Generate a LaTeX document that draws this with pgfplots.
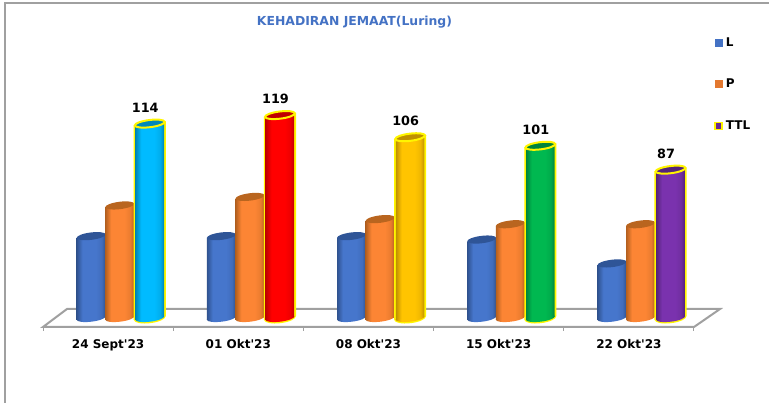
\documentclass[border=0pt]{standalone}
\usepackage{fontspec}
\setmainfont{DejaVu Sans}
\newfontfamily\plainf{DejaVu Sans}
\usepackage{pgfplots}
\pgfplotsset{compat=1.18}
\newlength\px
\setlength\px{0.75pt}
\definecolor{bluE}{HTML}{2F528F}\definecolor{bluM}{HTML}{4676CC}\definecolor{bluT}{HTML}{2F5597}
\definecolor{oraE}{HTML}{B4601F}\definecolor{oraM}{HTML}{FC8534}\definecolor{oraT}{HTML}{B9651F}
\definecolor{skyE}{HTML}{0085B5}\definecolor{skyM}{HTML}{00BBFF}\definecolor{skyT}{HTML}{0088B8}
\definecolor{redE}{HTML}{BF0000}\definecolor{redM}{HTML}{FF0000}\definecolor{redT}{HTML}{BF0000}
\definecolor{golE}{HTML}{BF9000}\definecolor{golM}{HTML}{FFC400}\definecolor{golT}{HTML}{BF9000}
\definecolor{grnE}{HTML}{00843C}\definecolor{grnM}{HTML}{00B850}\definecolor{grnT}{HTML}{00843C}
\definecolor{purE}{HTML}{54247A}\definecolor{purM}{HTML}{7A32AE}\definecolor{purT}{HTML}{54247A}
\definecolor{ringY}{HTML}{FFF500}
\definecolor{frameG}{HTML}{A0A0A0}
\definecolor{titleB}{HTML}{4472C4}
\newcommand\tiltell[2]{\pgfpathellipse{\pgfpointorigin}{\pgfpoint{#1*0.9925\px}{#1*0.1219\px}}{\pgfpoint{-#2*0.1219\px}{#2*0.9925\px}}}
\newcommand\declmarks[1]{%
  \pgfdeclarehorizontalshading{cyl#1}{100bp}{color(0bp)=(#1E); color(25bp)=(#1E); color(35bp)=(#1M); color(58bp)=(#1M); color(68bp)=(#1M!75!#1E); color(75bp)=(#1E); color(100bp)=(#1E)}%
  \pgfdeclareplotmark{b#1}{\tiltell{14.6}{3.7}\pgfshadepath{cyl#1}{0}\pgfusepath{discard}}%
  \pgfdeclareplotmark{t#1}{\pgfsetfillcolor{#1T}\tiltell{14.6}{3.7}\pgfusepath{fill}}%
  \pgfdeclareplotmark{y#1}{\pgfsetfillcolor{#1T}\pgfsetstrokecolor{ringY}\pgfsetlinewidth{2\px}\tiltell{15}{3.6}\pgfusepath{fill,stroke}}%
}
\declmarks{blu}\declmarks{ora}\declmarks{sky}\declmarks{red}\declmarks{gol}\declmarks{grn}\declmarks{pur}
\pgfdeclareplotmark{ybot}{\pgfsetfillcolor{ringY}\tiltell{16}{5.2}\pgfusepath{fill}}
\newcommand\body[5]{%
  \pgfmathsetmacro\xl{#3-#2}\pgfmathsetmacro\xr{#3+#2}%
  \pgfmathsetmacro\yl{#4-1.04}\pgfmathsetmacro\yr{#4+1.04}%
  \addplot[forget plot,no markers,draw=none,#5] coordinates {(\xl,-1.04)(\xr,1.04)(\xr,\yr)(\xl,\yl)} -- cycle;
}
\newcommand\cyl[3]{%
  \addplot[forget plot,only marks,mark=b#1] coordinates {(#2,0)};
  \body{#1}{0.1114}{#2}{#3}{shade,shading=cyl#1}
  \addplot[forget plot,only marks,mark=t#1] coordinates {(#2,#3)};
}
\newcommand\ttl[3]{%
  \addplot[forget plot,only marks,mark=ybot] coordinates {(#2,0)};
  \body{#1}{0.1235}{#2}{#3}{fill=ringY}
  \addplot[forget plot,only marks,mark=b#1] coordinates {(#2,0)};
  \body{#1}{0.1095}{#2}{#3}{shade,shading=cyl#1}
  \addplot[forget plot,only marks,mark=y#1,point meta=y,nodes near coords,
    nodes near coords style={font=\bfseries\fontsize{9.6}{12}\selectfont,text=black,anchor=south,xshift=-4.5\px,yshift=6\px}]
    coordinates {(#2,#3)};
}
\begin{document}
\begin{tikzpicture}
\path[use as bounding box] (0,0) rectangle (769\px,403\px);
\draw[frameG,line width=1.5\px] (5\px,0) -- (5\px,400\px) -- (769\px,400\px);
\begin{axis}[
  at={(43\px,76\px)},anchor=south west,
  scale only axis,width=651\px,height=239.2\px,
  xmin=-0.5,xmax=4.5,ymin=-5.28,ymax=135,
  clip=false,clip marker paths=true,
  axis x line=bottom,axis y line=none,
  x axis line style={-,draw=frameG,line width=2\px},
  xtick={0,1,2,3,4},
  xticklabels={24 Sept'23,01 Okt'23,08 Okt'23,15 Okt'23,22 Okt'23},
  major tick length=0pt,
  minor xtick={-0.5,0.5,1.5,2.5,3.5,4.5},
  minor tick length=4\px,
  tick align=outside,
  minor tick style={draw=frameG,line width=1\px},
  x tick label style={font=\plainf\bfseries\fontsize{9}{11}\selectfont,text=black,yshift=-8\px},
  /pgf/number format/assume math mode=true,
  title={KEHADIRAN JEMAAT(Luring)},
  title style={at={(0.4785,1.2414)},anchor=center,font=\bfseries\fontsize{9.3}{11}\selectfont,text=titleB},
  legend style={at={(1.0315,1.222)},anchor=north west,draw=none,fill=none,
    font=\bfseries\fontsize{9}{11}\selectfont,row sep=25.5\px,
    inner sep=0pt,outer sep=0pt},
  legend cell align=left,
]
\addlegendimage{legend image code/.code={\path[draw=none,fill=titleB] (canvas cs:x=0pt,y=-4\px) rectangle (canvas cs:x=8\px,y=4\px);}}
\addlegendentry{L}
\addlegendimage{legend image code/.code={\path[draw=none,fill=oraM!90!black] (canvas cs:x=0pt,y=-4\px) rectangle (canvas cs:x=8\px,y=4\px);}}
\addlegendentry{P}
\addlegendimage{legend image code/.code={\path[fill=purM!85!black,draw=ringY,line width=1.5\px] (canvas cs:x=0pt,y=-3.5\px) rectangle (canvas cs:x=7\px,y=3.5\px);}}
\addlegendentry{TTL}
\draw[frameG,line width=2\px,fill=white]
  (axis cs:-0.5,-5.28) -- (axis cs:-0.316,5.28) -- (axis cs:4.7,5.28) -- (axis cs:4.5,-5.28) -- cycle;
% 24 Sept'23
\cyl{blu}{-0.13}{48}\cyl{ora}{0.09}{66}\ttl{sky}{0.32}{114}
% 01 Okt'23
\cyl{blu}{0.87}{48}\cyl{ora}{1.09}{71}\ttl{red}{1.32}{119}
% 08 Okt'23
\cyl{blu}{1.87}{48}\cyl{ora}{2.09}{58}\ttl{gol}{2.32}{106}
% 15 Okt'23
\cyl{blu}{2.87}{46}\cyl{ora}{3.09}{55}\ttl{grn}{3.32}{101}
% 22 Okt'23
\cyl{blu}{3.87}{32}\cyl{ora}{4.09}{55}\ttl{pur}{4.32}{87}
\end{axis}
\end{tikzpicture}
\end{document}
